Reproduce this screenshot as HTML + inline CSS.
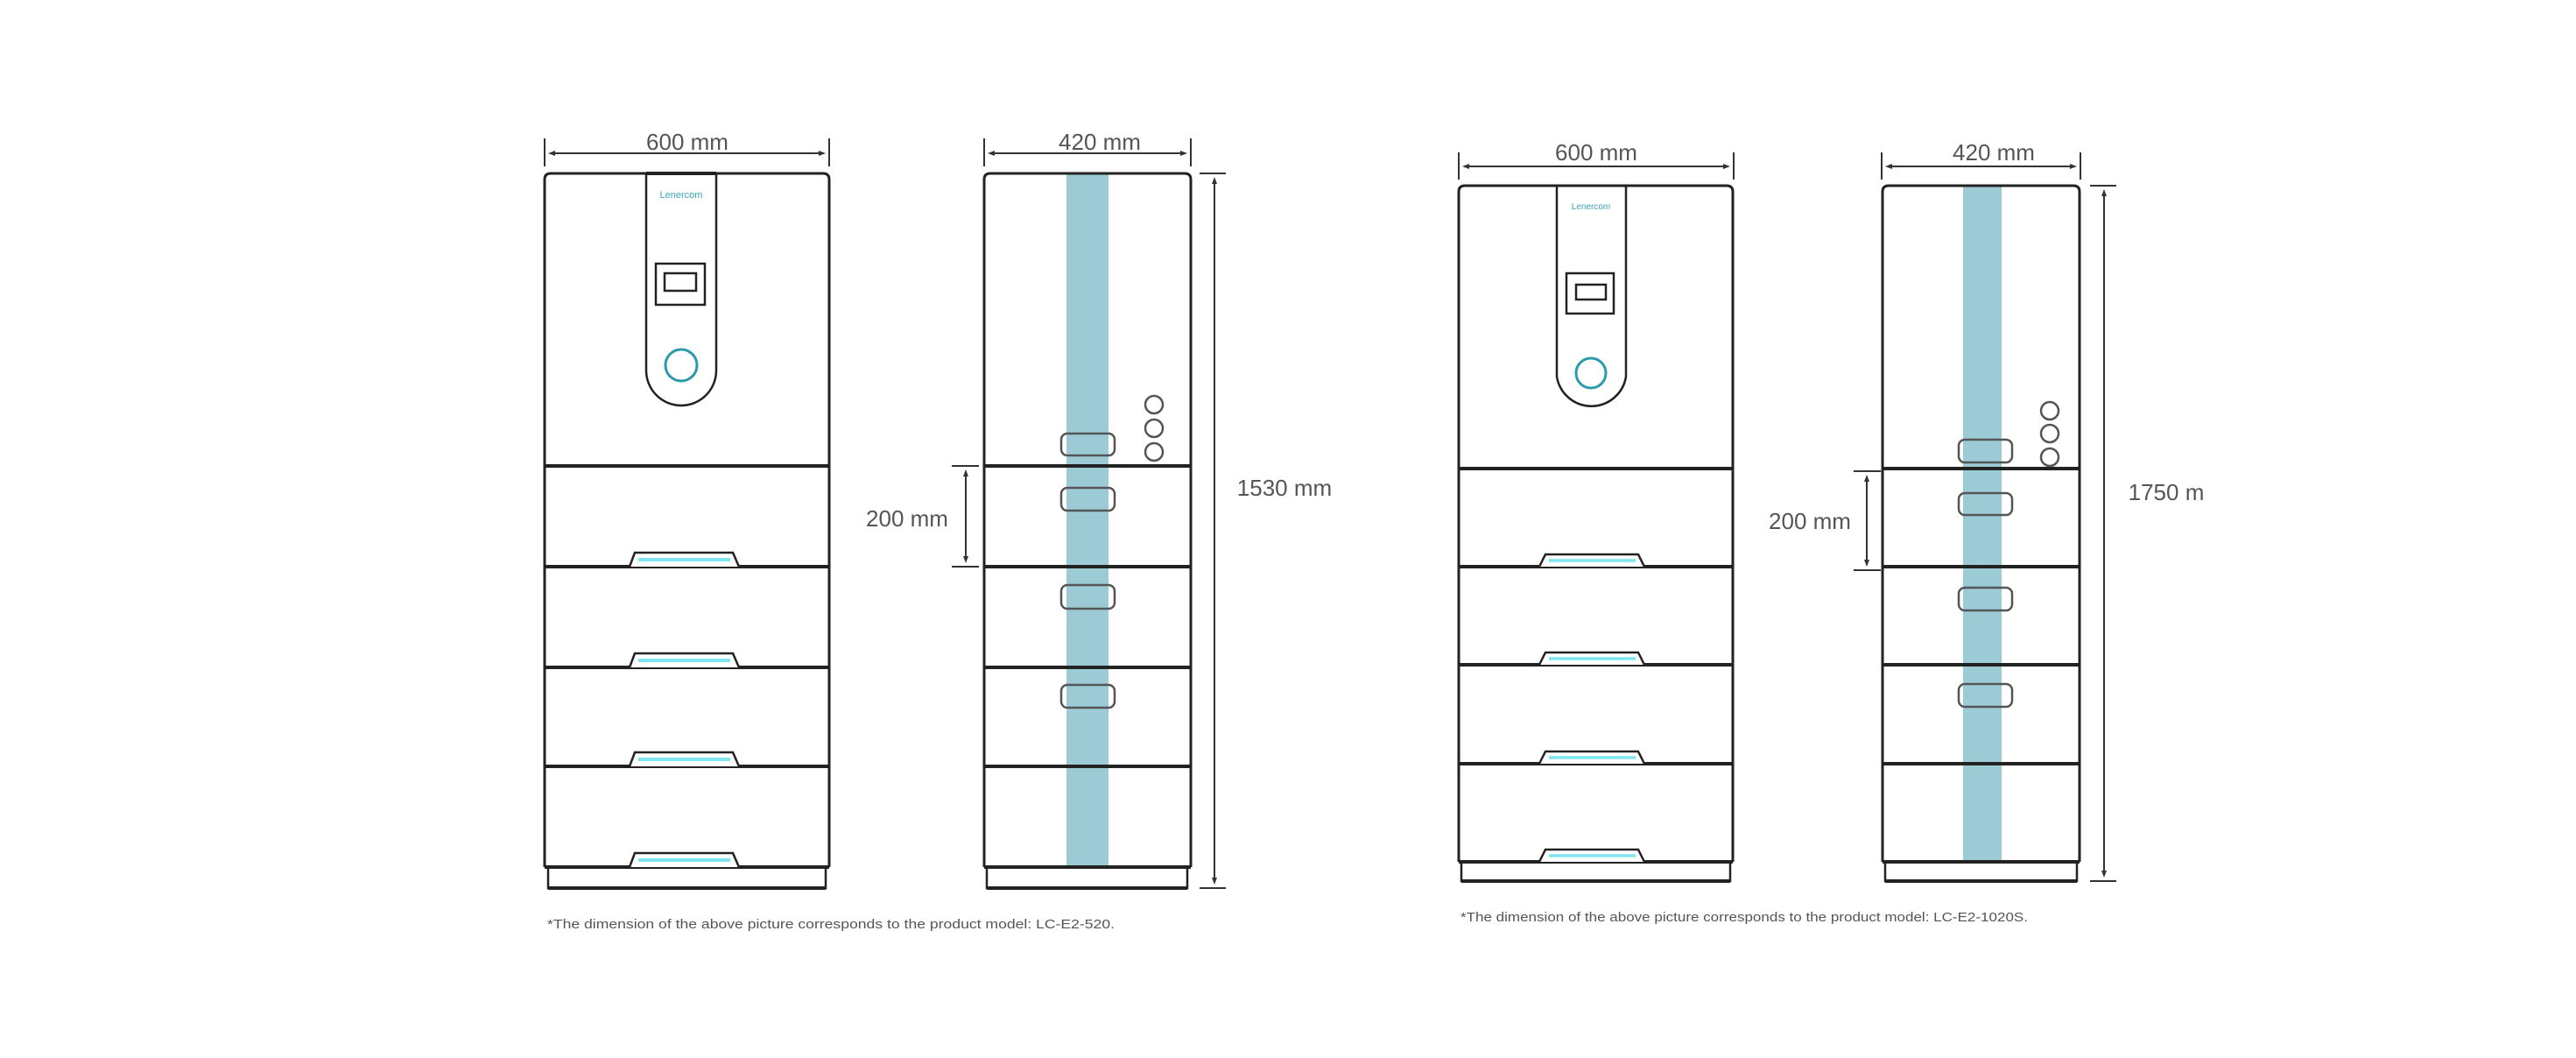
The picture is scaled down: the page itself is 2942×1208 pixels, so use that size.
<!DOCTYPE html>
<html><head><meta charset="utf-8"><style>
html,body{margin:0;padding:0;background:#fff;}
svg{display:block;}
text{font-family:"Liberation Sans","DejaVu Sans",sans-serif;fill:#555;}
</style></head><body>
<svg width="2942" height="1208" viewBox="0 0 2942 1208" xmlns="http://www.w3.org/2000/svg">
<defs>
<marker id="a" markerWidth="8" markerHeight="8" refX="4" refY="4" orient="auto-start-reverse" markerUnits="userSpaceOnUse"><path d="M0,1 L8,4 L0,7Z" fill="#333"/></marker>
</defs>
<rect width="2942" height="1208" fill="#fff"/>

<!-- ========== UNIT 1 FRONT ========== -->
<g stroke="#333" stroke-width="2" fill="none">
<line x1="622" y1="158" x2="622" y2="190"/><line x1="947" y1="158" x2="947" y2="190"/>
<line x1="630" y1="175" x2="939" y2="175" marker-start="url(#a)" marker-end="url(#a)"/>
</g>
<text x="785" y="171" font-size="26" text-anchor="middle">600 mm</text>
<g stroke="#222" fill="none">
<path d="M622,990 V205 Q622,198 629,198 H940 Q947,198 947,205 V990" stroke-width="3"/>
<path d="M738,198 V423 A40,40 0 0 0 818,423 V198" stroke-width="2.5"/>
<line x1="738" y1="198" x2="818" y2="198" stroke-width="4"/>
<rect x="749" y="301" width="56" height="47" stroke-width="2.5"/>
<rect x="759" y="312" width="36" height="20" stroke-width="2.5"/>
<line x1="622" y1="532" x2="947" y2="532" stroke-width="4"/>
<line x1="622" y1="647" x2="947" y2="647" stroke-width="4"/>
<line x1="622" y1="762" x2="947" y2="762" stroke-width="4"/>
<line x1="622" y1="875" x2="947" y2="875" stroke-width="4"/>
<line x1="622" y1="990" x2="947" y2="990" stroke-width="4"/>
<path d="M626,992 V1014 H943 V992" stroke-width="2.5"/>
<line x1="626" y1="1014" x2="943" y2="1014" stroke-width="4"/>
</g>
<circle cx="778" cy="417" r="18" fill="none" stroke="#2a9bab" stroke-width="3"/>
<text x="778" y="226" font-size="11" text-anchor="middle" style="fill:#3aa6b6">Lenercom</text>
<g stroke="#222" stroke-width="2.5" fill="#fff">
<path d="M719,647 L725,631 H837 L844,647"/>
<path d="M719,762 L725,746 H837 L844,762"/><path d="M719,875 L725,859 H837 L844,875"/>
<path d="M719,990 L725,974 H837 L844,990"/>
</g>
<g stroke="#7ee6f0" stroke-width="4">
<line x1="729" y1="639" x2="834" y2="639"/>
<line x1="729" y1="754" x2="834" y2="754"/><line x1="729" y1="867" x2="834" y2="867"/>
<line x1="729" y1="982" x2="834" y2="982"/>
</g>

<!-- ========== UNIT 1 SIDE ========== -->
<g stroke="#333" stroke-width="2" fill="none">
<line x1="1124" y1="158" x2="1124" y2="190"/><line x1="1360" y1="158" x2="1360" y2="190"/>
<line x1="1132" y1="175" x2="1352" y2="175" marker-start="url(#a)" marker-end="url(#a)"/>
</g>
<text x="1256" y="171" font-size="26" text-anchor="middle">420 mm</text>
<rect x="1218" y="198" width="48" height="792" fill="#9ccbd6"/>
<g stroke="#222" fill="none">
<path d="M1124,990 V205 Q1124,198 1131,198 H1353 Q1360,198 1360,205 V990" stroke-width="3"/>
<line x1="1124" y1="532" x2="1360" y2="532" stroke-width="4"/>
<line x1="1124" y1="647" x2="1360" y2="647" stroke-width="4"/>
<line x1="1124" y1="762" x2="1360" y2="762" stroke-width="4"/>
<line x1="1124" y1="875" x2="1360" y2="875" stroke-width="4"/>
<line x1="1124" y1="990" x2="1360" y2="990" stroke-width="4"/>
<path d="M1127,992 V1014 H1356 V992" stroke-width="2.5"/>
<line x1="1127" y1="1014" x2="1356" y2="1014" stroke-width="4"/>
</g>
<g stroke="#555" stroke-width="2.5" fill="none">
<rect x="1212" y="495" width="61" height="25" rx="7"/>
<rect x="1212" y="557" width="61" height="26" rx="7"/>
<rect x="1212" y="668" width="61" height="27" rx="7"/>
<rect x="1212" y="782" width="61" height="26" rx="7"/>
<circle cx="1318" cy="462" r="10"/><circle cx="1318" cy="489" r="10"/><circle cx="1318" cy="516" r="10"/>
</g>
<g stroke="#333" stroke-width="2" fill="none">
<line x1="1370" y1="198" x2="1400" y2="198"/><line x1="1370" y1="1014" x2="1400" y2="1014"/>
<line x1="1387" y1="206" x2="1387" y2="1006" marker-start="url(#a)" marker-end="url(#a)"/>
<line x1="1087" y1="532" x2="1118" y2="532"/><line x1="1087" y1="647" x2="1118" y2="647"/>
<line x1="1103" y1="540" x2="1103" y2="639" marker-start="url(#a)" marker-end="url(#a)"/>
</g>
<text x="1467" y="566" font-size="26" text-anchor="middle">1530 mm</text>
<text x="1036" y="601" font-size="26" text-anchor="middle">200 mm</text>
<text x="625" y="1060" font-size="15" textLength="648" lengthAdjust="spacingAndGlyphs">*The dimension of the above picture corresponds to the product model: LC-E2-520.</text>

<!-- ========== UNIT 2 FRONT ========== -->
<g stroke="#333" stroke-width="2" fill="none">
<line x1="1666" y1="174" x2="1666" y2="205"/><line x1="1980" y1="174" x2="1980" y2="205"/>
<line x1="1674" y1="190" x2="1972" y2="190" marker-start="url(#a)" marker-end="url(#a)"/>
</g>
<text x="1823" y="183" font-size="26" text-anchor="middle">600 mm</text>
<g stroke="#222" fill="none">
<path d="M1666,984 V219 Q1666,212 1673,212 H1972 Q1979,212 1979,219 V984" stroke-width="3"/>
<path d="M1778,212 V430 A40,40 0 0 0 1857,430 V212" stroke-width="2.5"/>
<rect x="1789" y="312" width="54" height="46" stroke-width="2.5"/>
<rect x="1800" y="325" width="34" height="17" stroke-width="2.5"/>
<line x1="1666" y1="535" x2="1979" y2="535" stroke-width="4"/>
<line x1="1666" y1="647" x2="1979" y2="647" stroke-width="4"/>
<line x1="1666" y1="759" x2="1979" y2="759" stroke-width="4"/>
<line x1="1666" y1="872" x2="1979" y2="872" stroke-width="4"/>
<line x1="1666" y1="984" x2="1979" y2="984" stroke-width="4"/>
<path d="M1669,986 V1006 H1976 V986" stroke-width="2.5"/>
<line x1="1669" y1="1006" x2="1976" y2="1006" stroke-width="4"/>
</g>
<circle cx="1817" cy="426" r="17" fill="none" stroke="#2a9bab" stroke-width="3"/>
<text x="1817" y="239" font-size="10" text-anchor="middle" style="fill:#3aa6b6">Lenercom</text>
<g stroke="#222" stroke-width="2.5" fill="#fff">
<path d="M1758,647 L1765,633 H1871 L1878,647"/><path d="M1758,759 L1765,745 H1871 L1878,759"/>
<path d="M1758,872 L1765,858 H1871 L1878,872"/><path d="M1758,984 L1765,970 H1871 L1878,984"/>
</g>
<g stroke="#7ee6f0" stroke-width="3.5">
<line x1="1769" y1="640" x2="1868" y2="640"/><line x1="1769" y1="752" x2="1868" y2="752"/>
<line x1="1769" y1="865" x2="1868" y2="865"/><line x1="1769" y1="977" x2="1868" y2="977"/>
</g>

<!-- ========== UNIT 2 SIDE ========== -->
<g stroke="#333" stroke-width="2" fill="none">
<line x1="2149" y1="174" x2="2149" y2="205"/><line x1="2376" y1="174" x2="2376" y2="205"/>
<line x1="2157" y1="190" x2="2368" y2="190" marker-start="url(#a)" marker-end="url(#a)"/>
</g>
<text x="2277" y="183" font-size="26" text-anchor="middle">420 mm</text>
<rect x="2242" y="212" width="44" height="772" fill="#9ccbd6"/>
<g stroke="#222" fill="none">
<path d="M2150,984 V219 Q2150,212 2157,212 H2368 Q2375,212 2375,219 V984" stroke-width="3"/>
<line x1="2150" y1="535" x2="2375" y2="535" stroke-width="4"/>
<line x1="2150" y1="647" x2="2375" y2="647" stroke-width="4"/>
<line x1="2150" y1="759" x2="2375" y2="759" stroke-width="4"/>
<line x1="2150" y1="872" x2="2375" y2="872" stroke-width="4"/>
<line x1="2150" y1="984" x2="2375" y2="984" stroke-width="4"/>
<path d="M2153,986 V1006 H2372 V986" stroke-width="2.5"/>
<line x1="2153" y1="1006" x2="2372" y2="1006" stroke-width="4"/>
</g>
<g stroke="#555" stroke-width="2.5" fill="none">
<rect x="2237" y="502" width="61" height="26" rx="7"/>
<rect x="2237" y="563" width="61" height="25" rx="7"/>
<rect x="2237" y="671" width="61" height="26" rx="7"/>
<rect x="2237" y="781" width="61" height="26" rx="7"/>
<circle cx="2341" cy="469" r="10"/><circle cx="2341" cy="495" r="10"/><circle cx="2341" cy="522" r="10"/>
</g>
<g stroke="#333" stroke-width="2" fill="none">
<line x1="2387" y1="212" x2="2417" y2="212"/><line x1="2387" y1="1006" x2="2417" y2="1006"/>
<line x1="2403" y1="220" x2="2403" y2="998" marker-start="url(#a)" marker-end="url(#a)"/>
<line x1="2117" y1="538" x2="2148" y2="538"/><line x1="2117" y1="651" x2="2148" y2="651"/>
<line x1="2132" y1="546" x2="2132" y2="643" marker-start="url(#a)" marker-end="url(#a)"/>
</g>
<text x="2474" y="571" font-size="26" text-anchor="middle">1750 m</text>
<text x="2067" y="604" font-size="26" text-anchor="middle">200 mm</text>
<text x="1668" y="1052" font-size="15" textLength="648" lengthAdjust="spacingAndGlyphs">*The dimension of the above picture corresponds to the product model: LC-E2-1020S.</text>
</svg>
</body></html>
